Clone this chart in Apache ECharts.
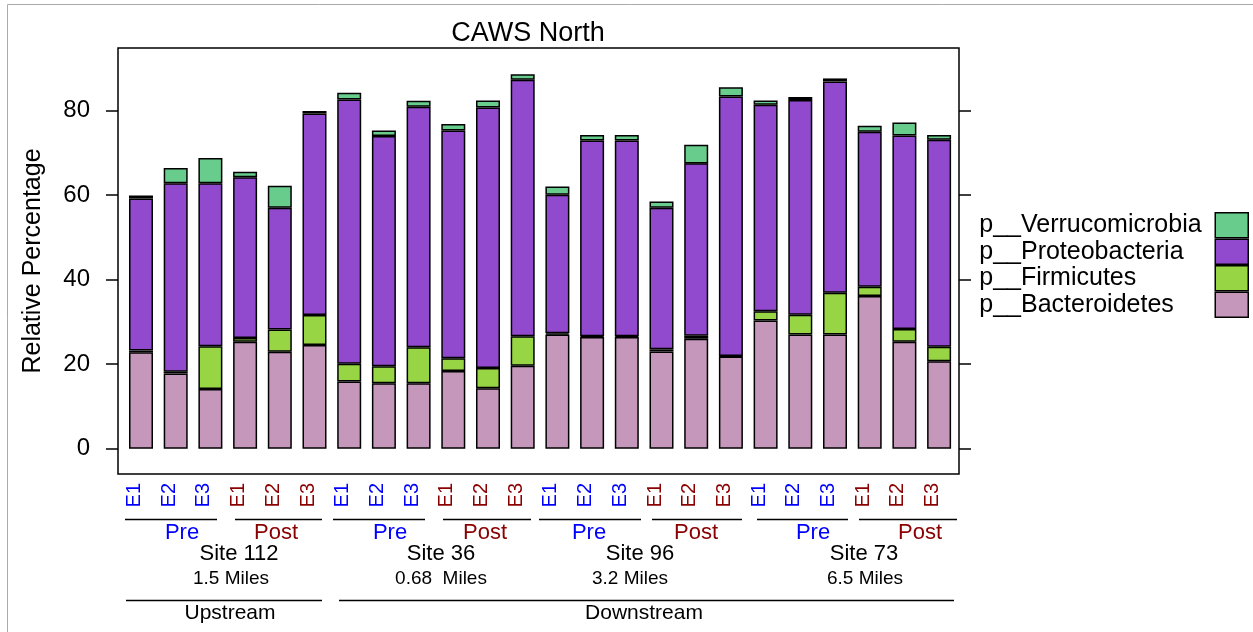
<!DOCTYPE html>
<html>
<head>
<meta charset="utf-8">
<script src="https://cdn.jsdelivr.net/npm/echarts@6/dist/echarts.min.js"></script>
<style>
html,body{margin:0;padding:0;background:#fff;}
#main{width:1253px;height:632px;}
</style>
</head>
<body>
<div id="main"></div>
<script>
// ---- data ----
const sites = ['112','112','112','112','112','112','36','36','36','36','36','36','96','96','96','96','96','96','73','73','73','73','73','73'];
const periods = ['Pre','Pre','Pre','Post','Post','Post','Pre','Pre','Pre','Post','Post','Post','Pre','Pre','Pre','Post','Post','Post','Pre','Pre','Pre','Post','Post','Post'];
const samples = ['E1','E2','E3','E1','E2','E3','E1','E2','E3','E1','E2','E3','E1','E2','E3','E1','E2','E3','E1','E2','E3','E1','E2','E3'];
const bacteroidetes = [22.8,17.8,14.1,25.3,22.9,24.5,15.9,15.5,15.5,18.4,14.3,19.6,27.0,26.4,26.4,23.0,26.0,21.8,30.3,27.0,27.0,36.1,25.3,20.7];
const firmicutes = [0.4,0.4,10.1,0.9,5.3,7.1,4.2,4.0,8.5,3.0,4.8,7.0,0.3,0.2,0.2,0.5,0.7,0.1,2.2,4.7,9.9,2.2,3.0,3.4];
const proteobacteria = [36.0,44.6,38.6,38.0,28.8,47.7,62.5,54.5,56.9,53.9,61.6,60.7,32.8,46.3,46.3,33.5,40.8,61.4,48.9,50.8,50.0,36.7,45.8,49.0];
const verrucomicrobia = [0.7,3.6,6.0,1.3,5.2,0.6,1.6,1.3,1.4,1.5,1.7,1.3,1.9,1.3,1.3,1.5,4.4,2.2,1.0,0.7,0.7,1.4,3.1,1.1];
const yTicks = [0,20,40,60,80];
const seriesNames = ['p__Bacteroidetes','p__Firmicutes','p__Proteobacteria','p__Verrucomicrobia'];
const seriesColors = ['#C597BB','#98D544','#9149CD','#68CC8C'];
const periodColors = {Pre:'#0000FF', Post:'#8B0000'};
const siteLabels = ['Site 112','Site 36','Site 96','Site 73'];
const distLabels = ['1.5 Miles','0.68  Miles','3.2 Miles','6.5 Miles'];

const categories = samples.map((s,i)=> sites[i]+'|'+periods[i]+'|'+s);
const seriesData = [bacteroidetes, firmicutes, proteobacteria, verrucomicrobia];

const FONT = "'Liberation Sans', Arial, Helvetica, sans-serif";
const Y_MIN = -6, Y_MAX = 94.8;

const chart = echarts.init(document.getElementById('main'));

// annotation graphics (group labels under the axis)
const gfx = [];
function hline(x1,x2,y){ gfx.push({type:'line', shape:{x1:x1,y1:y,x2:x2,y2:y}, style:{stroke:'#000', lineWidth:1.5}, silent:true}); }
function txt(x,y,t,size,color){ gfx.push({type:'text', x:x, y:y, style:{text:t, fontSize:size, fontFamily:FONT, fill:color, align:'center', verticalAlign:'middle'}, silent:true}); }
// outer frame
gfx.push({type:'rect', shape:{x:7.5,y:4.5,width:1400,height:800}, style:{fill:'none', stroke:'#aaaaaa', lineWidth:1}, silent:true});
// Pre/Post lines and labels
const groupLines = [[125,217],[235,322],[333,425],[443,531],[539,641],[652,742],[757,848],[859,957]];
const groupTextX = [182,276,390,485,589,696,813,920];
groupLines.forEach((g,i)=>{ hline(g[0],g[1],519.5); const p = i%2===0?'Pre':'Post'; txt(groupTextX[i],533,p,22,periodColors[p]); });
const siteX = [239,441,640,864];
const distX = [231,441,630,865];
siteLabels.forEach((s,i)=>{ txt(siteX[i],554,s,22,'#000'); txt(distX[i],579,distLabels[i],19,'#000'); });
hline(126,322,600.5); hline(339,954,600.5);
txt(230,613,'Upstream',21,'#000');
txt(644,613,'Downstream',21,'#000');

const option = {
  animation:false,
  textStyle:{fontFamily:FONT},
  title:{text:'CAWS North', left:528, top:20, textAlign:'center', padding:0,
    textStyle:{fontSize:27, fontWeight:'normal', color:'#000', fontFamily:FONT}},
  legend:{
    data: seriesNames.slice().reverse(),
    orient:'vertical', right:4, top:212, itemGap:0, itemWidth:33, itemHeight:25,
    align:'right', icon:'rect', padding:0, selectedMode:false,
    itemStyle:{borderColor:'#000', borderWidth:1.5},
    formatter: n => '{a|'+n+'}',
    textStyle:{color:'#000', fontFamily:FONT, fontSize:25,
      rich:{a:{width:231, align:'left', fontSize:25, lineHeight:25, fontFamily:FONT, color:'#000'}}}
  },
  grid:[
    {left:118, top:48, width:841, height:426, show:true, borderColor:'#000', borderWidth:1.5, backgroundColor:'transparent', containLabel:false},
    {left:123.65, top:48, width:832.8, height:426, show:false, containLabel:false}
  ],
  xAxis:[
    {gridIndex:0, type:'value', min:0, max:1, show:false},
    {gridIndex:1, type:'category', data:categories, boundaryGap:true,
      axisLine:{show:false}, axisTick:{show:false}, splitLine:{show:false},
      axisLabel:{interval:0, rotate:90, margin:9, fontSize:20, lineHeight:13, fontFamily:FONT, verticalAlign:'bottom',
        formatter: v => v.split('|')[2],
        color: (v) => periodColors[String(v).split('|')[1]] }}
  ],
  yAxis:[
    {gridIndex:0, type:'value', min:Y_MIN, max:Y_MAX, position:'left',
      name:'Relative Percentage', nameLocation:'middle', nameGap:72,
      nameTextStyle:{fontSize:25, color:'#000', fontFamily:FONT},
      axisLine:{show:false}, splitLine:{show:false},
      axisTick:{show:true, inside:false, length:12, customValues:yTicks, lineStyle:{color:'#000', width:1.5}},
      axisLabel:{show:true, customValues:yTicks, fontSize:24, margin:28, color:'#000', fontFamily:FONT}},
    {gridIndex:0, type:'value', min:Y_MIN, max:Y_MAX, position:'right',
      axisLine:{show:false}, splitLine:{show:false},
      axisTick:{show:true, inside:false, length:12, customValues:yTicks, lineStyle:{color:'#000', width:1.5}},
      axisLabel:{show:false, customValues:yTicks}},
    {gridIndex:1, type:'value', min:Y_MIN, max:Y_MAX, show:false, splitLine:{show:false}}
  ],
  series: seriesNames.map((n,k)=>({
    name:n, type:'bar', stack:'total', xAxisIndex:1, yAxisIndex:2, barWidth:24,
    data: seriesData[k],
    itemStyle:{color:seriesColors[k], borderColor:'#000', borderWidth:1.5},
    emphasis:{disabled:true}
  })),
  graphic: gfx
};
chart.setOption(option);
</script>
</body>
</html>
